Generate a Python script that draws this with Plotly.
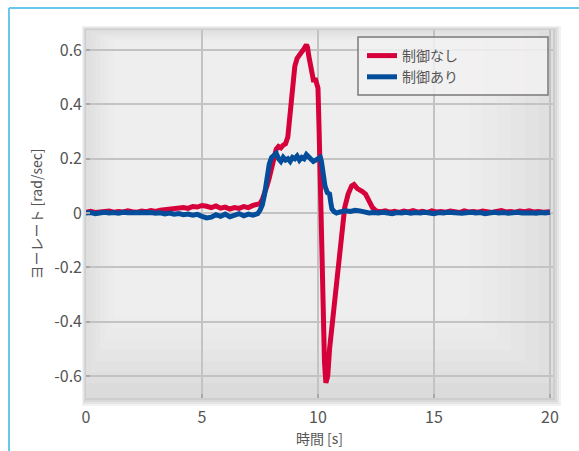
import plotly.graph_objects as go

# ---- data ----
t_red = [0, 0.2, 0.4, 0.6, 0.8, 1.0, 1.2, 1.4, 1.6, 1.8, 2.0, 2.2, 2.4, 2.6, 2.8, 3.0,
         3.2, 3.4, 3.6, 3.8, 4.0, 4.2, 4.4, 4.6, 4.8, 5.0, 5.2, 5.4, 5.6, 5.8, 6.0, 6.2,
         6.4, 6.6, 6.8, 7.0, 7.2, 7.4, 7.5, 7.6, 7.7, 7.8, 7.9, 8.0, 8.1, 8.2, 8.3, 8.4,
         8.5, 8.6, 8.7, 8.8, 8.9, 9.0, 9.1, 9.2, 9.3, 9.4, 9.5, 9.55, 9.6, 9.7, 9.8, 9.9,
         9.95, 10.0, 10.05, 10.12, 10.2, 10.28, 10.34, 10.42, 10.5, 10.65, 10.8, 10.95,
         11.05, 11.15, 11.3, 11.45, 11.55, 11.7, 11.9, 12.05, 12.2, 12.35, 12.5, 12.7,
         12.9, 13.1, 13.3, 13.5, 13.7, 13.9, 14.1, 14.3, 14.5, 14.7, 14.9, 15.1, 15.3,
         15.5, 15.7, 15.9, 16.1, 16.3, 16.5, 16.7, 16.9, 17.1, 17.3, 17.5, 17.7, 17.9,
         18.1, 18.3, 18.5, 18.7, 18.9, 19.1, 19.3, 19.5, 19.7, 19.9, 20.0]
yaw_red = [0.003, 0.006, 0.002, 0.005, 0.004, 0.007, 0.003, 0.006, 0.004, 0.008, 0.005,
           0.003, 0.007, 0.005, 0.009, 0.006, 0.010, 0.012, 0.015, 0.013, 0.018, 0.020,
           0.017, 0.024, 0.022, 0.028, 0.025, 0.020, 0.026, 0.018, 0.022, 0.015, 0.020,
           0.017, 0.024, 0.020, 0.028, 0.030, 0.035, 0.050, 0.070, 0.100, 0.130, 0.170,
           0.200, 0.235, 0.245, 0.240, 0.250, 0.255, 0.280, 0.360, 0.450, 0.540, 0.570,
           0.580, 0.590, 0.605, 0.620, 0.610, 0.580, 0.520, 0.490, 0.490, 0.470, 0.460,
           0.300, 0.000, -0.300, -0.550, -0.625, -0.600, -0.500, -0.370, -0.240, -0.110,
           -0.050, 0.020, 0.070, 0.100, 0.105, 0.090, 0.080, 0.070, 0.045, 0.020, 0.008,
           0.005, 0.008, 0.003, 0.006, 0.002, 0.007, 0.004, 0.009, 0.003, 0.006, 0.002,
           0.008, 0.004, 0.006, 0.003, 0.007, 0.005, 0.002, 0.008, 0.004, 0.006, 0.003,
           0.007, 0.004, 0.002, 0.006, 0.009, 0.004, 0.006, 0.003, 0.007, 0.005, 0.008,
           0.004, 0.006, 0.003, 0.007, 0.005]

t_blue = [0, 0.2, 0.4, 0.6, 0.8, 1.0, 1.2, 1.4, 1.6, 1.8, 2.0, 2.2, 2.4, 2.6, 2.8, 3.0,
          3.2, 3.4, 3.6, 3.8, 4.0, 4.2, 4.4, 4.6, 4.8, 5.0, 5.2, 5.4, 5.6, 5.8, 6.0, 6.2,
          6.4, 6.6, 6.8, 7.0, 7.2, 7.4, 7.5, 7.6, 7.7, 7.8, 7.9, 8.0, 8.1, 8.2, 8.3, 8.4,
          8.5, 8.6, 8.7, 8.8, 8.9, 9.0, 9.1, 9.2, 9.3, 9.4, 9.5, 9.6, 9.7, 9.8, 9.9, 10.0,
          10.1, 10.15, 10.2, 10.3, 10.4, 10.5, 10.55, 10.6, 10.7, 10.8, 10.9, 11.0, 11.2,
          11.4, 11.6, 11.8, 12.0, 12.2, 12.4, 12.6, 12.8, 13.0, 13.2, 13.4, 13.6, 13.8,
          14.0, 14.2, 14.4, 14.6, 14.8, 15.0, 15.2, 15.4, 15.6, 15.8, 16.0, 16.2, 16.4,
          16.6, 16.8, 17.0, 17.2, 17.4, 17.6, 17.8, 18.0, 18.2, 18.4, 18.6, 18.8, 19.0,
          19.2, 19.4, 19.6, 19.8, 20.0]
yaw_blue = [0.000, 0.002, -0.002, 0.001, 0.003, 0.000, 0.002, -0.001, 0.003, 0.001,
            0.002, 0.000, 0.003, 0.001, 0.002, -0.001, 0.001, -0.003, 0.000, -0.004,
            -0.002, -0.006, -0.004, -0.008, -0.005, -0.012, -0.018, -0.015, -0.006,
            -0.012, -0.004, -0.014, -0.008, -0.002, -0.010, -0.004, -0.008, -0.002,
            0.010, 0.030, 0.070, 0.130, 0.180, 0.205, 0.215, 0.220, 0.200, 0.190, 0.205,
            0.195, 0.200, 0.190, 0.205, 0.200, 0.210, 0.195, 0.205, 0.200, 0.215, 0.205,
            0.200, 0.190, 0.195, 0.200, 0.205, 0.190, 0.160, 0.100, 0.075, 0.070, 0.040,
            0.015, 0.005, 0.000, 0.003, 0.005, 0.008, 0.006, 0.010, 0.008, 0.005, 0.000,
            0.002, 0.000, 0.003, 0.001, -0.002, 0.002, 0.000, 0.003, -0.001, 0.002,
            0.000, 0.003, 0.001, -0.002, 0.002, 0.000, 0.003, 0.001, 0.002, -0.001,
            0.001, 0.003, 0.000, 0.002, -0.002, 0.001, 0.003, 0.000, 0.002, -0.001,
            0.001, 0.003, 0.000, 0.002, 0.001, -0.001, 0.002, 0.000, 0.003]

series_names = ["制御なし", "制御あり"]
x_tick_vals = [0, 5, 10, 15, 20]
x_tick_text = ["0", "5", "10", "15", "20"]
y_tick_vals = [0.6, 0.4, 0.2, 0, -0.2, -0.4, -0.6]
y_tick_text = ["0.6", "0.4", "0.2", "0", "-0.2", "-0.4", "-0.6"]
x_title = "時間 [s]"
y_title = "ヨーレート [rad/sec]"

FONT = "Noto Sans CJK JP, Noto Sans, sans-serif"

fig = go.Figure()
fig.add_trace(go.Scatter(x=t_red, y=yaw_red, mode="lines", name=series_names[0],
                         line=dict(color="#d6003b", width=5)))
fig.add_trace(go.Scatter(x=t_blue, y=yaw_blue, mode="lines", name=series_names[1],
                         line=dict(color="#034d9b", width=5)))

# plot area geometry (px): left 86, right 553, top 30, bottom 398
W, H = 579, 451
L, R, T, B = 86, 553, 30, 398
pw, ph = R - L, B - T


def px(xp):
    return (xp - L) / pw


def py(yp):
    return (B - yp) / ph


shapes = []
# shadow around plot area
for i, op in enumerate([0.05, 0.05, 0.05, 0.05]):
    d = (i + 1) * 2
    shapes.append(dict(type="rect", xref="paper", yref="paper", layer="below",
                       x0=px(L - d / 2), x1=px(R + d), y0=py(B + d), y1=py(T - d / 2),
                       fillcolor=f"rgba(0,0,0,{op})", line=dict(width=0)))
# base plot fill
shapes.append(dict(type="rect", xref="paper", yref="paper", layer="below",
                   x0=0, x1=1, y0=0, y1=1, fillcolor="#dcdbdb", line=dict(width=0)))
# vignette (lighter toward the top-left/center)
for i in range(7):
    shapes.append(dict(type="rect", xref="paper", yref="paper", layer="below",
                       x0=0.0 + i * 0.01, x1=1 - i * 0.03, y0=0.04 + i * 0.03, y1=1 - i * 0.005,
                       fillcolor="rgba(255,255,255,0.12)", line=dict(width=0)))
# legend box
shapes.append(dict(type="rect", xref="paper", yref="paper", layer="above",
                   x0=px(358), x1=px(548), y0=py(95), y1=py(37),
                   fillcolor="rgba(242,241,241,0.85)", line=dict(color="#7a7a7a", width=1.5)))
# outer light-blue frame (left and top)
shapes.append(dict(type="line", xref="paper", yref="paper", x0=px(9), x1=px(9),
                   y0=py(H + 10), y1=py(8), line=dict(color="#67c7f0", width=2)))
shapes.append(dict(type="line", xref="paper", yref="paper", x0=px(9), x1=px(W + 5),
                   y0=py(8), y1=py(8), line=dict(color="#67c7f0", width=2)))

fig.update_layout(
    width=W, height=H,
    margin=dict(l=L, r=W - R, t=T, b=H - B, pad=0, autoexpand=False),
    paper_bgcolor="white",
    plot_bgcolor="rgba(0,0,0,0)",
    font=dict(family=FONT, color="#555555", size=14),
    shapes=shapes,
    showlegend=True,
    legend=dict(x=px(362), y=py(40), xanchor="left", yanchor="top",
                bgcolor="rgba(0,0,0,0)", borderwidth=0,
                font=dict(family=FONT, size=14, color="#555555"),
                itemwidth=30, tracegroupgap=0),
)
fig.update_xaxes(range=[0, 20.13], tickvals=x_tick_vals, ticktext=x_tick_text,
                 automargin=False, ticklabelstandoff=8,
                 showgrid=True, gridcolor="#c4c3c3", gridwidth=2, zeroline=False,
                 ticks="inside", ticklen=4, tickwidth=2, tickcolor="#a8a8a8",
                 showline=False, tickfont=dict(size=16, color="#555555"),
                 title=dict(text=x_title, font=dict(size=14, color="#555555"), standoff=1))
fig.update_yaxes(range=[-0.681, 0.674], tickvals=y_tick_vals, ticktext=y_tick_text,
                 automargin=False, ticklabelstandoff=3,
                 showgrid=True, gridcolor="#c4c3c3", gridwidth=2, zeroline=False,
                 ticks="inside", ticklen=4, tickwidth=2, tickcolor="#a8a8a8",
                 showline=False, tickfont=dict(size=16, color="#555555"),
                 title=dict(text=y_title, font=dict(size=14, color="#555555"), standoff=8))

fig.write_html("out.html", config={"displayModeBar": False},
               post_script="document.body.style.margin='0px';document.body.style.overflow='hidden';")
